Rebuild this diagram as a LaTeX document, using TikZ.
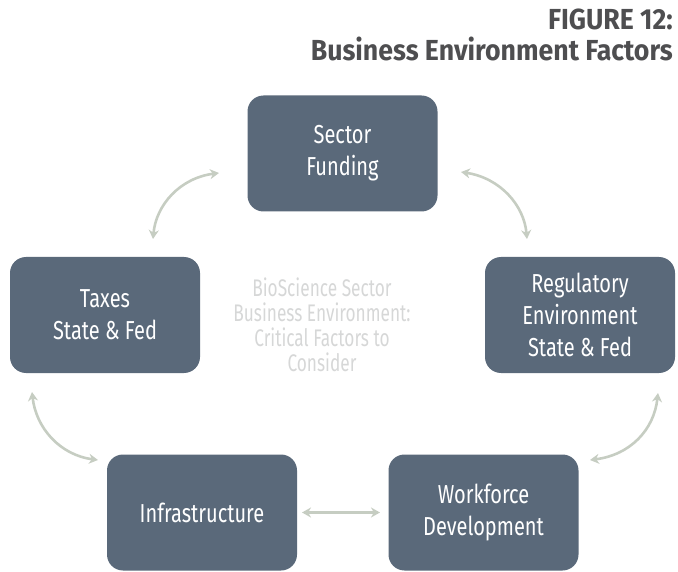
\documentclass[tikz,border=0pt]{standalone}
\usepackage{fontspec}
\usetikzlibrary{arrows.meta}
\newfontfamily\boxfont[FakeStretch=0.77]{Fira Sans}
\newfontfamily\headfont[FakeStretch=0.92]{Fira Sans}
\newfontfamily\hubfont[FakeStretch=0.72]{Fira Sans}
\definecolor{slate}{RGB}{90,105,122}
\definecolor{headgray}{RGB}{78,78,80}
\definecolor{hubgray}{RGB}{214,215,215}
\definecolor{linkgray}{RGB}{198,205,194}
\begin{document}
\begin{tikzpicture}[x=1pt,y=-1pt,
  factor/.style={fill=slate, rounded corners=16pt, minimum width=190pt,
    minimum height=116pt, align=center, text=white, inner sep=0pt,
    font=\boxfont\fontsize{26}{32}\selectfont},
  link/.style={draw=linkgray, line width=2.6pt,
    {Stealth[length=9pt,width=10pt]}-{Stealth[length=9pt,width=10pt]}}]
\useasboundingbox (0,0) rectangle (678,572);

% title
\node[anchor=north east, align=right, text=headgray, inner sep=0pt,
  font=\headfont\bfseries\fontsize{29}{31}\selectfont] (title) at (673,9)
  {FIGURE 12:\\Business Environment Factors};

% the five factors
\node[factor] (fund)  at (342.5,153.5) {Sector\\Funding};
\node[factor] (tax)   at (105,315)   {Taxes\\State \& Fed};
\node[factor] (reg)   at (580,315)   {Regulatory\\Environment\\State \& Fed};
\node[factor] (infra) at (202,512.5) {Infrastructure};
\node[factor] (work)  at (483.5,512.5) {Workforce\\Development};

% hub text
\node[align=center, text=hubgray, inner sep=0pt,
  font=\hubfont\fontsize{24}{25}\selectfont] (hub) at (322,325)
  {BioScience Sector\\Business Environment:\\Critical Factors to\\Consider};

% connector ends
\coordinate (tlA) at (219,173);
\coordinate (tlB) at (153,239);
\coordinate (trA) at (461,172);
\coordinate (trB) at (527,239);
\coordinate (blA) at (32,392);
\coordinate (blB) at (98,460);
\coordinate (brA) at (658,393);
\coordinate (brB) at (590,460);
\coordinate (bmA) at (302,512.5);
\coordinate (bmB) at (380,512.5);

\draw[link] (tlA) .. controls (180,178) and (156,205) .. (tlB);
\draw[link] (trA) .. controls (500,178) and (524,205) .. (trB);
\draw[link] (blA) .. controls (36,428) and (60,455) .. (blB);
\draw[link] (brA) .. controls (654,430) and (630,455) .. (brB);
\draw[link] (bmA) -- (bmB);
\end{tikzpicture}
\end{document}
